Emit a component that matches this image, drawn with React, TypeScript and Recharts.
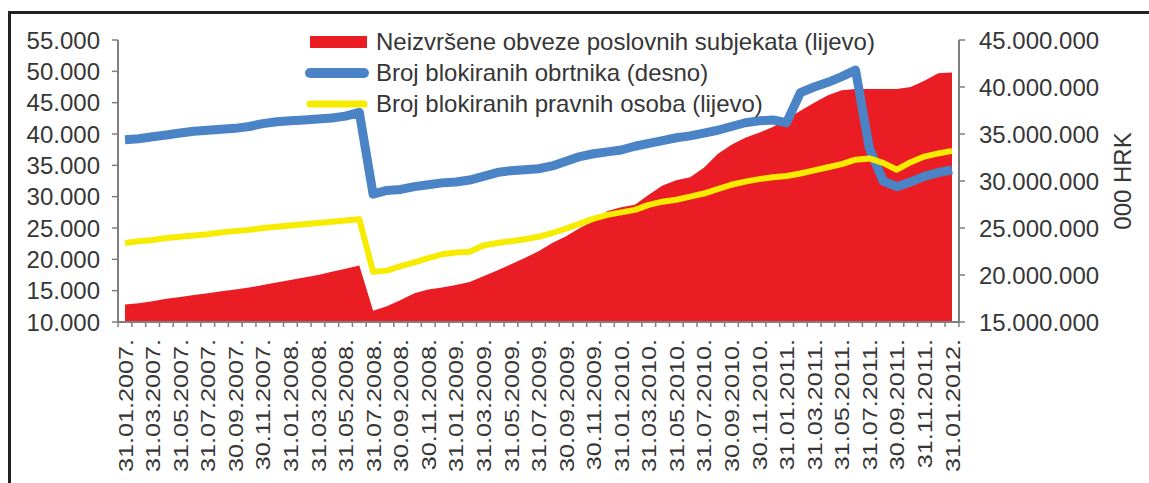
import React from "react";
import { ComposedChart, Area, Line, XAxis, YAxis, Legend } from "recharts";

// month-end dates, only every second one is labelled on the axis
const months = [
  "31.01.2007.", "28.02.2007.", "31.03.2007.", "30.04.2007.", "31.05.2007.", "30.06.2007.",
  "31.07.2007.", "31.08.2007.", "30.09.2007.", "31.10.2007.", "30.11.2007.", "31.12.2007.",
  "31.01.2008.", "29.02.2008.", "31.03.2008.", "30.04.2008.", "31.05.2008.", "30.06.2008.",
  "31.07.2008.", "31.08.2008.", "30.09.2008.", "31.10.2008.", "30.11.2008.", "31.12.2008.",
  "31.01.2009.", "28.02.2009.", "31.03.2009.", "30.04.2009.", "31.05.2009.", "30.06.2009.",
  "31.07.2009.", "31.08.2009.", "30.09.2009.", "31.10.2009.", "30.11.2009.", "31.12.2009.",
  "31.01.2010.", "28.02.2010.", "31.03.2010.", "30.04.2010.", "31.05.2010.", "30.06.2010.",
  "31.07.2010.", "31.08.2010.", "30.09.2010.", "31.10.2010.", "30.11.2010.", "31.12.2010.",
  "31.01.2011.", "28.02.2011.", "31.03.2011.", "30.04.2011.", "31.05.2011.", "30.06.2011.",
  "31.07.2011.", "31.08.2011.", "30.09.2011.", "31.10.2011.", "31.11.2011.", "31.12.2011.",
  "31.01.2012.",
];

// Neizvršene obveze poslovnih subjekata (left axis)
const obveze = [
  12800, 13000, 13300, 13700, 14000, 14300, 14600, 14900, 15200, 15500, 15900, 16300,
  16700, 17100, 17500, 18000, 18500, 19000, 11800, 12500, 13500, 14600, 15200, 15500,
  15900, 16400, 17300, 18200, 19200, 20200, 21300, 22600, 23700, 25000, 26100, 27700,
  28300, 28700, 30300, 31800, 32600, 33100, 34600, 36800, 38300, 39400, 40200, 41100,
  42400, 43700, 45000, 46200, 47000, 47200, 47200, 47200, 47200, 47500, 48500, 49700,
  49800,
];

// Broj blokiranih obrtnika (right axis)
const obrtnici = [
  34.4, 34.5, 34.7, 34.9, 35.1, 35.3, 35.4, 35.5, 35.6, 35.8, 36.1, 36.3,
  36.4, 36.5, 36.6, 36.7, 36.9, 37.3, 28.6, 29.0, 29.1, 29.4, 29.6, 29.8,
  29.9, 30.1, 30.5, 30.9, 31.1, 31.2, 31.3, 31.6, 32.1, 32.6, 32.9, 33.1,
  33.3, 33.7, 34.0, 34.3, 34.6, 34.8, 35.1, 35.4, 35.8, 36.2, 36.4, 36.5,
  36.2, 39.4, 40.0, 40.5, 41.1, 41.8, 33.5, 30.0, 29.4, 29.9, 30.5, 30.9,
  31.2,
].map((v) => v * 1000000);

// Broj blokiranih pravnih osoba (left axis)
const pravneOsobe = [
  22600, 22900, 23100, 23400, 23600, 23800, 24000, 24300, 24500, 24700, 25000, 25200,
  25400, 25600, 25800, 26000, 26200, 26400, 18000, 18200, 18900, 19500, 20200, 20800,
  21100, 21200, 22200, 22600, 22900, 23200, 23600, 24200, 24900, 25700, 26500, 27100,
  27500, 27900, 28700, 29200, 29500, 30000, 30500, 31200, 31900, 32400, 32800, 33100,
  33300, 33700, 34200, 34700, 35200, 35900, 36100, 35400, 34300, 35500, 36400, 36900,
  37300,
];

const leftTicks = [10000, 15000, 20000, 25000, 30000, 35000, 40000, 45000, 50000, 55000];
const rightTicks = [15000000, 20000000, 25000000, 30000000, 35000000, 40000000, 45000000];

const legendItems = [
  { key: "obveze", label: "Neizvršene obveze poslovnih subjekata (lijevo)", color: "#EA1D25", kind: "area" },
  { key: "obrtnici", label: "Broj blokiranih obrtnika (desno)", color: "#4A84C6", kind: "thick" },
  { key: "pravne", label: "Broj blokiranih pravnih osoba (lijevo)", color: "#F7EC00", kind: "thin" },
];

const data = months.map((date, i) => ({
  date,
  obveze: obveze[i],
  obrtnici: obrtnici[i],
  pravne: pravneOsobe[i],
}));

const FONT = "'Liberation Sans', Arial, sans-serif";
const TEXT = "#363636";
const AXIS = "#7f7f7f";

const W = 1149;
const H = 483;
const LEFT_W = 118;
const RIGHT_W = 190;
const X_PAD = 7;
const STEP = (W - LEFT_W - RIGHT_W - 2 * X_PAD) / (months.length - 1);

const dots = (v: number) => String(v).replace(/\B(?=(\d{3})+(?!\d))/g, ".");

// tick marks sit between months, labels on every second month
// eslint-disable-next-line @typescript-eslint/no-explicit-any
function DateTick({ x, y, payload, index }: any) {
  return (
    <g>
      {index === 0 && (
        <line x1={x - STEP / 2} x2={x - STEP / 2} y1={y} y2={y + 5} stroke={AXIS} strokeWidth={1.5} />
      )}
      <line x1={x + STEP / 2} x2={x + STEP / 2} y1={y} y2={y + 5} stroke={AXIS} strokeWidth={1.5} />
      {index % 2 === 0 && (
        <text
          transform={`translate(${x},${y + 17}) rotate(-90) scale(1.2,1)`}
          textAnchor="end"
          dy="0.36em"
          fontSize={21}
          fontFamily={FONT}
          fill={TEXT}
        >
          {payload.value}
        </text>
      )}
    </g>
  );
}

// eslint-disable-next-line @typescript-eslint/no-explicit-any
function HrkLabel({ viewBox }: any) {
  const cx = viewBox.x + viewBox.width - 27;
  const cy = viewBox.y + viewBox.height / 2;
  return (
    <text
      transform={`translate(${cx},${cy}) rotate(-90)`}
      textAnchor="middle"
      dy="0.36em"
      fontSize={24}
      fontFamily={FONT}
      fill={TEXT}
    >
      000 HRK
    </text>
  );
}

function LegendBox() {
  return (
    <div style={{ fontFamily: FONT, fontSize: 24, color: TEXT }}>
      {legendItems.map((it) => (
        <div key={it.key} style={{ display: "flex", alignItems: "center", height: 31, whiteSpace: "nowrap" }}>
          <svg width={64} height={14}>
            {it.kind === "area" ? (
              <rect x={5} y={1} width={57} height={12} fill={it.color} />
            ) : (
              <line
                x1={5}
                x2={59}
                y1={7}
                y2={7}
                stroke={it.color}
                strokeWidth={it.kind === "thick" ? 10 : 7}
                strokeLinecap="round"
              />
            )}
          </svg>
          <span style={{ marginLeft: 7 }}>{it.label}</span>
        </div>
      ))}
    </div>
  );
}

export default function App() {
  return (
    <div style={{ position: "absolute", left: 0, top: 0, width: W, height: H, background: "#fff" }}>
      <div
        style={{
          position: "absolute",
          left: 8,
          top: 11,
          right: 0,
          bottom: 0,
          borderTop: "3px solid #222",
          borderLeft: "3px solid #222",
        }}
      />
      <ComposedChart
        width={W}
        height={H}
        data={data}
        margin={{ top: 40, right: 0, bottom: 0, left: 0 }}
        style={{ position: "absolute", left: 0, top: 0 }}
      >
        <XAxis
          dataKey="date"
          interval={0}
          height={161}
          padding={{ left: X_PAD, right: X_PAD }}
          tickLine={false}
          tickSize={0}
          tickMargin={0}
          tick={<DateTick />}
          axisLine={{ stroke: AXIS, strokeWidth: 2 }}
        />
        <YAxis
          yAxisId="left"
          width={LEFT_W}
          domain={[10000, 55000]}
          ticks={leftTicks}
          interval={0}
          tickFormatter={dots}
          tickSize={6}
          tickMargin={12}
          tick={{ fontSize: 24, fill: TEXT, fontFamily: FONT }}
          tickLine={{ stroke: AXIS, strokeWidth: 1.5 }}
          axisLine={{ stroke: AXIS, strokeWidth: 2 }}
          allowDataOverflow
        />
        <YAxis
          yAxisId="right"
          orientation="right"
          width={RIGHT_W}
          domain={[15000000, 45000000]}
          ticks={rightTicks}
          interval={0}
          tickFormatter={dots}
          tickSize={6}
          tickMargin={14}
          tick={{ fontSize: 24, fill: TEXT, fontFamily: FONT }}
          tickLine={{ stroke: AXIS, strokeWidth: 1.5 }}
          axisLine={{ stroke: AXIS, strokeWidth: 2 }}
          label={<HrkLabel />}
          allowDataOverflow
        />
        <Legend
          layout="horizontal"
          verticalAlign="middle"
          align="center"
          content={<LegendBox />}
          wrapperStyle={{ top: 26, left: 305, width: "auto" }}
        />
        <Area
          yAxisId="left"
          type="linear"
          dataKey="obveze"
          fill="#EA1D25"
          fillOpacity={1}
          stroke="none"
          dot={false}
          activeDot={false}
          isAnimationActive={false}
        />
        <Line
          yAxisId="right"
          type="linear"
          dataKey="obrtnici"
          stroke="#4A84C6"
          strokeWidth={9}
          strokeLinejoin="round"
          dot={false}
          activeDot={false}
          isAnimationActive={false}
        />
        <Line
          yAxisId="left"
          type="linear"
          dataKey="pravne"
          stroke="#F7EC00"
          strokeWidth={6}
          strokeLinejoin="round"
          dot={false}
          activeDot={false}
          isAnimationActive={false}
        />
      </ComposedChart>
    </div>
  );
}
